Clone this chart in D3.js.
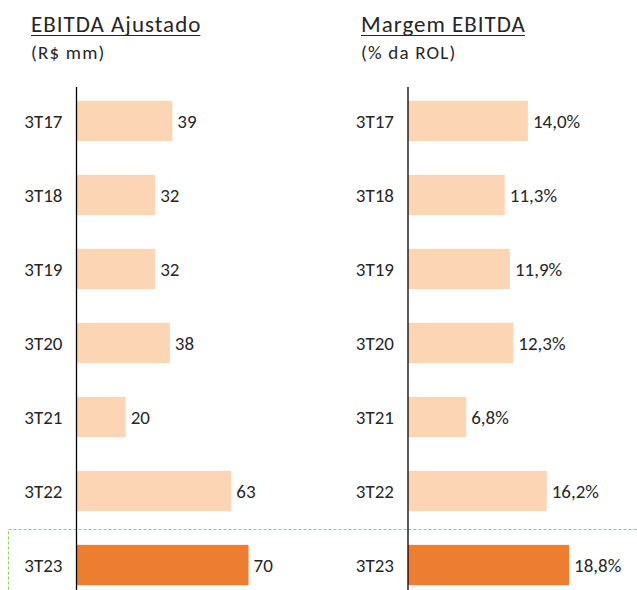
<!DOCTYPE html>
<html>
<head>
<meta charset="utf-8">
<script src="https://cdn.jsdelivr.net/npm/d3@7"></script>
<style>
  body { margin: 0; background: #fff; }
  svg text { font-family: Carlito, Calibri, Lato, sans-serif; fill: #262626; }
</style>
</head>
<body>
<svg id="chart"></svg>
<script>
const width = 637;
const height = 590;

const periods = ["3T17", "3T18", "3T19", "3T20", "3T21", "3T22", "3T23"];
const ebitda = [39, 32, 32, 38, 20, 63, 70];
const margem = [14.0, 11.3, 11.9, 12.3, 6.8, 16.2, 18.8];

const svg = d3.select("#chart").attr("width", width).attr("height", height);

// dashed highlight box around last period
svg.append("rect")
    .attr("x", 8.5).attr("y", 529.5)
    .attr("width", 700).attr("height", 100)
    .attr("fill", "none")
    .attr("stroke", "#92D050")
    .attr("stroke-width", 1)
    .attr("stroke-dasharray", "3,2");

const y = d3.scaleBand()
    .domain(periods)
    .range([86, 600])
    .paddingInner(0.455)
    .paddingOuter(0.2);

function panel(opts) {
    const g = svg.append("g");
    const x = d3.scaleLinear().domain([0, opts.max]).range([opts.x0, opts.x0 + opts.len]);

    // title (underlined)
    const t = g.append("text")
        .attr("x", opts.tx).attr("y", 31.5)
        .attr("font-size", 23)
        .attr("letter-spacing", 1)
        .text(opts.title);
    const bb = t.node().getBBox();
    g.append("line")
        .attr("x1", opts.tx).attr("x2", opts.tx + bb.width - 1)
        .attr("y1", 35.5).attr("y2", 35.5)
        .attr("stroke", "#262626").attr("stroke-width", 1.2);

    g.append("text")
        .attr("x", opts.tx).attr("y", 59)
        .attr("font-size", 19)
        .attr("letter-spacing", 1.2)
        .text(opts.sub);

    // bars
    g.selectAll("rect")
        .data(opts.values)
        .enter().append("rect")
        .attr("x", opts.x0)
        .attr("y", (d, i) => y(periods[i]))
        .attr("width", d => x(d) - opts.x0)
        .attr("height", y.bandwidth())
        .attr("fill", (d, i) => i === periods.length - 1 ? "#ED7D31" : "#FCD5B5");

    // value labels
    g.selectAll("text.val")
        .data(opts.values)
        .enter().append("text")
        .attr("class", "val")
        .attr("x", d => x(d) + 5)
        .attr("y", (d, i) => y(periods[i]) + y.bandwidth() / 2)
        .attr("dy", "0.36em")
        .attr("font-size", 19)
        .text(opts.fmt);

    // category labels
    g.selectAll("text.cat")
        .data(periods)
        .enter().append("text")
        .attr("class", "cat")
        .attr("x", opts.x0 - 14)
        .attr("y", d => y(d) + y.bandwidth() / 2)
        .attr("dy", "0.36em")
        .attr("text-anchor", "end")
        .attr("font-size", 19)
        .text(d => d);

    // axis line
    g.append("line")
        .attr("x1", opts.x0).attr("x2", opts.x0)
        .attr("y1", 87).attr("y2", height)
        .attr("stroke", "#000").attr("stroke-width", 1.3);
}

panel({
    title: "EBITDA Ajustado", sub: "(R$ mm)", tx: 31,
    values: ebitda, max: 70, x0: 76.5, len: 172,
    fmt: d => d3.format("d")(d)
});

panel({
    title: "Margem EBITDA", sub: "(% da ROL)", tx: 361,
    values: margem, max: 18.8, x0: 408, len: 161,
    fmt: d => d3.format(".1f")(d).replace(".", ",") + "%"
});
</script>
</body>
</html>
